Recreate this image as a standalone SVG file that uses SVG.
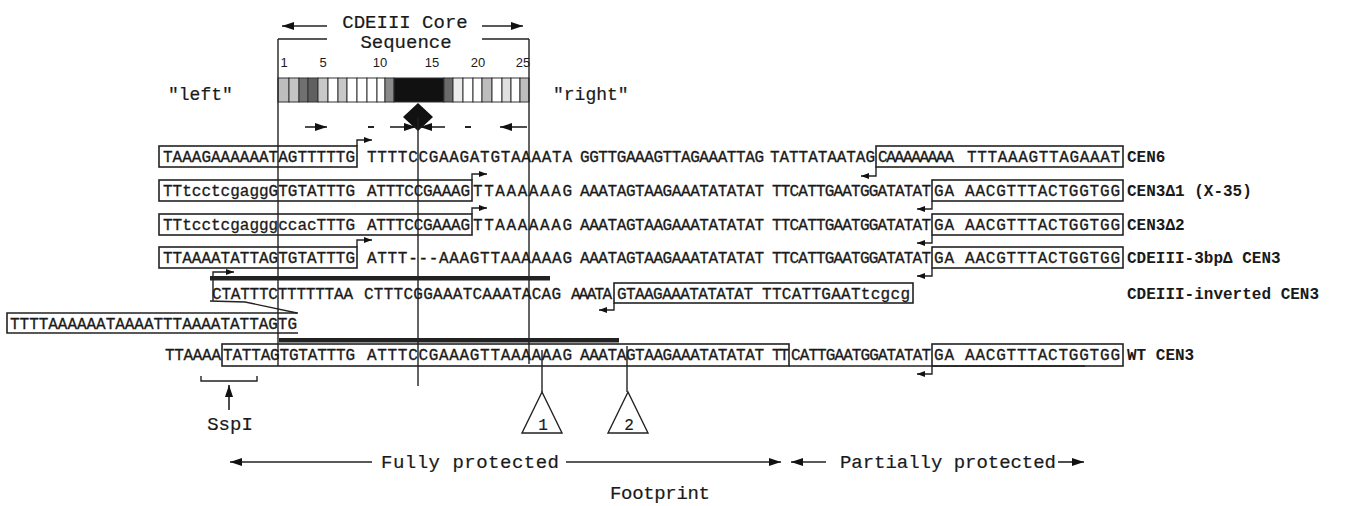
<svg xmlns="http://www.w3.org/2000/svg" width="1356" height="506" viewBox="0 0 1356 506">
<defs>
<style>
.seq{font-family:"Liberation Mono",monospace;font-size:16px;fill:#1a1a1a;stroke:#1a1a1a;stroke-width:0.3}
.lab{font-family:"Liberation Mono",monospace;font-size:16px;font-weight:bold;fill:#1a1a1a}
.big{font-family:"Liberation Mono",monospace;font-size:19px;fill:#1a1a1a;stroke:#1a1a1a;stroke-width:0.2}
.num{font-family:"Liberation Sans",Arial,sans-serif;font-size:13px;fill:#1a1a1a}
.box{fill:none;stroke:#222;stroke-width:1.6}
.ln{fill:none;stroke:#222;stroke-width:1.4}
.ar{fill:none;stroke:#222;stroke-width:1.6;marker-end:url(#ah)}
.sa{fill:none;stroke:#222;stroke-width:1.4;marker-end:url(#sh)}
.cell{stroke:#333;stroke-width:1}
</style>
<marker id="ah" viewBox="0 0 12 8" refX="12" refY="4" markerWidth="12" markerHeight="8" markerUnits="userSpaceOnUse" orient="auto"><path d="M0,0 L12,4 L0,8 Z" fill="#111"/></marker>
<marker id="sh" viewBox="0 0 8 6" refX="8" refY="3" markerWidth="8" markerHeight="6" markerUnits="userSpaceOnUse" orient="auto"><path d="M0,0 L8,3 L0,6 Z" fill="#111"/></marker>
</defs>
<rect width="1356" height="506" fill="#fff"/>

<g id="core-header">
<text class="big" x="405" y="28" text-anchor="middle">CDEIII Core</text>
<text class="big" x="406" y="48" text-anchor="middle">Sequence</text>
<path class="ar" d="M327,26 L282,26"/>
<path class="ar" d="M482,26 L523,26"/>
<path class="ln" d="M278,39 H327 M482,39 H529"/>
<text class="num" x="284" y="67" text-anchor="middle">1</text>
<text class="num" x="323" y="67" text-anchor="middle">5</text>
<text class="num" x="380" y="67" text-anchor="middle">10</text>
<text class="num" x="432" y="67" text-anchor="middle">15</text>
<text class="num" x="478" y="67" text-anchor="middle">20</text>
<text class="num" x="523" y="67" text-anchor="middle">25</text>
<text class="big" x="168" y="100" style="font-size:18px">"left"</text>
<text class="big" x="553" y="100" style="font-size:18px">"right"</text>
</g>

<g id="core-bar">
<rect class="cell" x="278" y="78" width="11" height="24" fill="#bdbdbd"/>
<rect class="cell" x="289" y="78" width="10" height="24" fill="#c4c4c4"/>
<rect class="cell" x="299" y="78" width="9" height="24" fill="#707070"/>
<rect class="cell" x="308" y="78" width="10" height="24" fill="#606060"/>
<rect class="cell" x="318" y="78" width="10" height="24" fill="#c8c8c8"/>
<rect class="cell" x="328" y="78" width="10" height="24" fill="#fff"/>
<rect class="cell" x="338" y="78" width="9" height="24" fill="#c8c8c8"/>
<rect class="cell" x="347" y="78" width="10" height="24" fill="#fff"/>
<rect class="cell" x="357" y="78" width="10" height="24" fill="#fff"/>
<rect class="cell" x="367" y="78" width="10" height="24" fill="#fff"/>
<rect class="cell" x="377" y="78" width="8" height="24" fill="#fff"/>
<rect class="cell" x="385" y="78" width="9" height="24" fill="#8a8a8a"/>
<rect class="cell" x="394" y="78" width="50" height="24" fill="#111"/>
<rect class="cell" x="444" y="78" width="9" height="24" fill="#6a6a6a"/>
<rect class="cell" x="453" y="78" width="10" height="24" fill="#ececec"/>
<rect class="cell" x="463" y="78" width="10" height="24" fill="#fff"/>
<rect class="cell" x="473" y="78" width="9" height="24" fill="#fff"/>
<rect class="cell" x="482" y="78" width="10" height="24" fill="#bdbdbd"/>
<rect class="cell" x="492" y="78" width="10" height="24" fill="#fff"/>
<rect class="cell" x="502" y="78" width="9" height="24" fill="#e0e0e0"/>
<rect class="cell" x="511" y="78" width="9" height="24" fill="#fff"/>
<rect class="cell" x="520" y="78" width="9" height="24" fill="#bdbdbd"/>
<polygon points="418,103 433,117 418,131 403,117" fill="#111"/>
<path class="ar" d="M305,127 L327,127"/>
<path class="ln" d="M368,127 H374 M465,127 H471" style="stroke-width:1.8"/>
<path class="ar" d="M390,127 L416,127"/>
<path class="ar" d="M445,127 L420,127"/>
<path class="ar" d="M527,127 L500,127"/>
</g>

<g id="connectors">
<path class="ln" d="M278,39 V366"/>
<path class="ln" d="M529,39 V364"/>
<path class="ln" d="M418,117 V386"/>
<path class="ln" d="M542,350 V392"/>
<path class="ln" d="M627,346 V392"/>
<rect x="210" y="276" width="340" height="4.5" fill="#222"/>
<rect x="279" y="338" width="340" height="4.5" fill="#222"/>
<path class="ln" d="M210,301 L245,302 L297,313"/>
<path class="sa" d="M213,301 V272 H234"/>
<path class="sa" d="M357,146 V140 H372"/>
<path class="sa" d="M876,167 V176 H861"/>
<path class="sa" d="M472,180 V174 H487"/>
<path class="sa" d="M932,201 V209 H917"/>
<path class="sa" d="M472,214 V208 H487"/>
<path class="sa" d="M932,235 V243 H917"/>
<path class="sa" d="M357,247 V240 H372"/>
<path class="sa" d="M932,268 V276 H917"/>
<path class="sa" d="M614,303 V310 H599"/>
<path class="sa" d="M932,366 V374 H917"/>
<path class="ln" d="M201,376 V381 H257 V376"/>
<path class="ar" d="M229,410 L229,385"/>
<path class="ar" d="M372,462 L230,462"/>
<path class="ar" d="M566,462 L781,462"/>
<path class="ar" d="M826,462 L791,462"/>
<path class="ar" d="M1058,462 L1084,462"/>
</g>

<g id="cen6">
<rect class="box" x="159" y="146" width="198" height="21"/>
<rect class="box" x="876" y="146" width="247" height="21"/>
<text class="seq" x="163" y="162" textLength="192">TAAAGAAAAAATAGTTTTTG</text>
<text class="seq" x="367" y="162" textLength="205">TTTTCCGAAGATGTAAAATA</text>
<text class="seq" x="580" y="162" textLength="184">GGTTGAAAGTTAGAAATTAG</text>
<text class="seq" x="770" y="162" textLength="105">TATTATAATAG</text>
<text class="seq" x="878" y="162" textLength="76">CAAAAAAAA</text>
<text class="seq" x="967" y="162" textLength="153">TTTAAAGTTAGAAAT</text>
<text class="lab" x="1127" y="162">CEN6</text>
</g>

<g id="cen3d1">
<rect class="box" x="159" y="180" width="313" height="21"/>
<rect class="box" x="932" y="180" width="191" height="21"/>
<text class="seq" x="163" y="196" textLength="192">TTtcctcgaggGTGTATTTG</text>
<text class="seq" x="367" y="196" textLength="103">ATTTCCGAAAG</text>
<text class="seq" x="473" y="196" textLength="99">TTAAAAAAG</text>
<text class="seq" x="580" y="196" textLength="184">AAATAGTAAGAAATATATAT</text>
<text class="seq" x="772" y="196" textLength="159">TTCATTGAATGGATATAT</text>
<text class="seq" x="934" y="196" textLength="20">GA</text>
<text class="seq" x="965" y="196" textLength="155">AACGTTTACTGGTGG</text>
<text class="lab" x="1127" y="196">CEN3Δ1 (X-35)</text>
</g>

<g id="cen3d2">
<rect class="box" x="159" y="214" width="313" height="21"/>
<rect class="box" x="932" y="214" width="191" height="21"/>
<text class="seq" x="163" y="230" textLength="192">TTtcctcgagggccacTTTG</text>
<text class="seq" x="367" y="230" textLength="103">ATTTCCGAAAG</text>
<text class="seq" x="473" y="230" textLength="99">TTAAAAAAG</text>
<text class="seq" x="580" y="230" textLength="184">AAATAGTAAGAAATATATAT</text>
<text class="seq" x="772" y="230" textLength="159">TTCATTGAATGGATATAT</text>
<text class="seq" x="934" y="230" textLength="20">GA</text>
<text class="seq" x="965" y="230" textLength="155">AACGTTTACTGGTGG</text>
<text class="lab" x="1127" y="230">CEN3Δ2</text>
</g>

<g id="cdeiii-3bp">
<rect class="box" x="159" y="247" width="198" height="21"/>
<rect class="box" x="932" y="247" width="191" height="21"/>
<text class="seq" x="163" y="263" textLength="192">TTAAAATATTAGTGTATTTG</text>
<text class="seq" x="367" y="263" textLength="205">ATTT---AAAGTTAAAAAAG</text>
<text class="seq" x="580" y="263" textLength="184">AAATAGTAAGAAATATATAT</text>
<text class="seq" x="772" y="263" textLength="159">TTCATTGAATGGATATAT</text>
<text class="seq" x="934" y="263" textLength="20">GA</text>
<text class="seq" x="965" y="263" textLength="155">AACGTTTACTGGTGG</text>
<text class="lab" x="1127" y="263">CDEIII-3bpΔ CEN3</text>
</g>

<g id="cdeiii-inverted">
<rect class="box" x="614" y="283" width="299" height="20"/>
<text class="seq" x="212" y="299" textLength="141">CTATTTCTTTTTTAA</text>
<text class="seq" x="364" y="299" textLength="197">CTTTCGGAAATCAAATACAG</text>
<text class="seq" x="571" y="299" textLength="41">AAATA</text>
<text class="seq" x="617" y="299" textLength="136">GTAAGAAATATATAT</text>
<text class="seq" x="762" y="299" textLength="148">TTCATTGAATtcgcg</text>
<text class="lab" x="1127" y="299">CDEIII-inverted CEN3</text>
</g>

<g id="inverted-flank">
<path class="box" d="M298,313 H7 V333 H298"/>
<text class="seq" x="10" y="329" textLength="287">TTTTAAAAAATAAAATTTAAAATATTAGTG</text>
</g>

<g id="wt-cen3">
<rect class="box" x="222" y="344" width="567" height="22"/>
<rect class="box" x="932" y="344" width="191" height="22"/>
<path class="box" d="M789,366 H1085"/>
<text class="seq" x="165" y="360" textLength="56">TTAAAA</text>
<text class="seq" x="223" y="360" textLength="132">TATTAGTGTATTTG</text>
<text class="seq" x="367" y="360" textLength="205">ATTTCCGAAAGTTAAAAAAG</text>
<text class="seq" x="580" y="360" textLength="184">AAATAGTAAGAAATATATAT</text>
<text class="seq" x="772" y="360" textLength="17">TT</text>
<text class="seq" x="791" y="360" textLength="140">CATTGAATGGATATAT</text>
<text class="seq" x="934" y="360" textLength="20">GA</text>
<text class="seq" x="965" y="360" textLength="155">AACGTTTACTGGTGG</text>
<text class="lab" x="1127" y="360">WT CEN3</text>
</g>

<g id="sspi">
<text class="big" x="230" y="430" text-anchor="middle">SspI</text>
</g>

<g id="site1">
<polygon points="542,392 562,433 522,433" fill="#fff" stroke="#222" stroke-width="1.4"/>
<text class="big" x="543" y="430" text-anchor="middle" style="font-size:16px">1</text>
</g>
<g id="site2">
<polygon points="628,392 648,433 608,433" fill="#fff" stroke="#222" stroke-width="1.4"/>
<text class="big" x="629" y="430" text-anchor="middle" style="font-size:16px">2</text>
</g>

<g id="footprint">
<text class="big" x="381" y="468" textLength="178">Fully protected</text>
<text class="big" x="840" y="468" textLength="216">Partially protected</text>
<text class="big" x="610" y="499" textLength="100">Footprint</text>
</g>
</svg>
